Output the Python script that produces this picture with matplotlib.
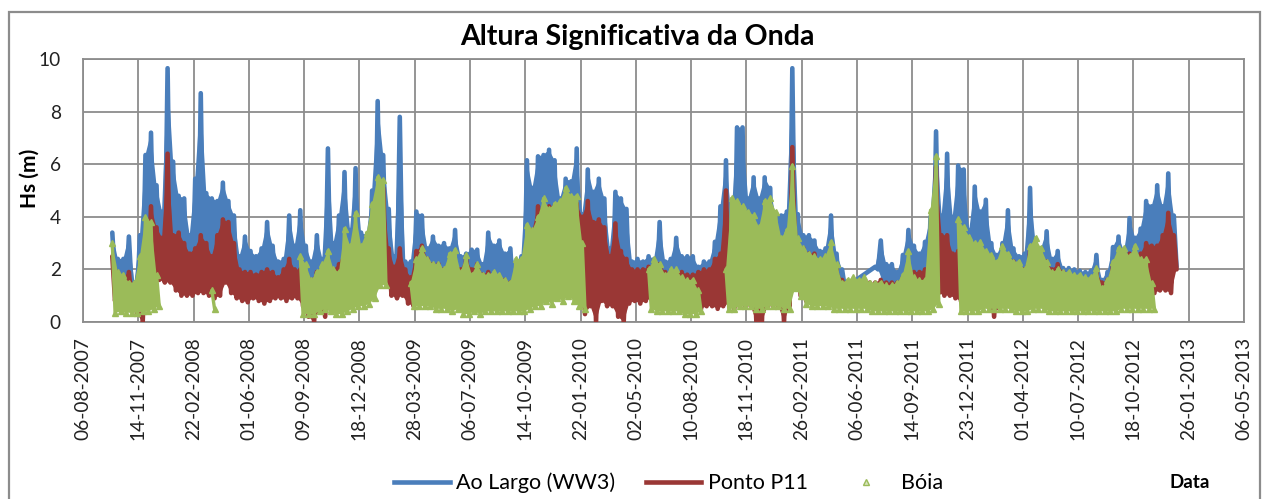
import matplotlib.pyplot as plt
import matplotlib.dates as mdates
from matplotlib.lines import Line2D
from matplotlib.patches import Rectangle
import numpy as np
import pandas as pd

plt.rcParams['font.family'] = ['Lato', 'DejaVu Sans']

# readings in 10-day bins starting 25-09-2007: max and min of each bin
bin_start = '2007-09-25'

ww3_high = [3.4, 2.4, 2.4, 3.25, 1.5, 3.3, 6.35, 7.2, 5.2, 4.2,
            9.65, 6.1, 4.8, 4.7, 3.3, 5.45, 8.7, 4.9, 4.7, 4.6,
            5.3, 4.6, 4.05, 2.5, 3.25, 2.7, 2.5, 2.8, 3.8, 2.9,
            2.3, 2.4, 4.05, 2.9, 4.25, 2.9, 2.3, 3.3, 2.4, 6.6,
            3.0, 4.05, 5.7, 3.5, 5.85, 3.4, 3.3, 5.0, 8.4, 6.35,
            4.3, 2.5, 7.8, 2.3, 2.3, 4.2, 4.05, 2.8, 3.25, 2.9,
            3.0, 2.8, 3.5, 2.5, 2.6, 2.75, 2.75, 2.2, 3.4, 2.9,
            3.1, 2.6, 2.8, 2.0, 2.5, 6.15, 5.1, 6.3, 6.35, 6.55,
            6.15, 4.7, 5.45, 5.35, 6.6, 4.1, 5.8, 4.95, 5.45, 4.7,
            2.8, 4.95, 4.7, 4.3, 2.3, 2.4, 2.3, 2.5, 2.4, 3.8,
            2.3, 2.4, 3.2, 2.5, 2.5, 2.5, 2.1, 2.3, 2.3, 3.05,
            4.4, 6.15, 4.0, 7.4, 7.4, 4.7, 5.5, 4.7, 5.5, 5.1,
            4.0, 4.05, 4.2, 9.65, 4.1, 3.3, 3.3, 3.1, 2.7, 2.8,
            4.05, 2.6, 2.0, None, None, None, None, None, 2.1, 3.1,
            2.2, 2.2, 1.9, 2.55, 3.5, 2.9, 2.6, 3.05, 4.0, 7.25,
            4.05, 6.4, 4.0, 5.95, 5.8, 3.5, 5.15, 4.2, 4.65, 3.0,
            2.55, 3.0, 4.25, 2.8, 2.5, 2.6, 5.1, 3.0, 2.8, 3.45,
            2.4, 2.7, 2.05, 2.05, 2.0, 1.95, 1.9, 1.95, 2.55, 1.6,
            1.9, 2.85, 3.25, 2.7, 3.95, 3.2, 3.55, 4.6, 4.4, 5.2,
            4.4, 5.65, 4.05]
ww3_low = [1.6, 1.4, 1.2, 1.3, 0.9, 1.0, 1.8, 2.0, 2.0, 2.0,
           2.2, 1.6, 1.5, 1.4, 1.4, 1.5, 1.5, 1.4, 1.3, 1.4,
           1.8, 1.5, 1.3, 1.2, 1.1, 1.2, 1.1, 1.0, 1.1, 1.2,
           1.2, 1.1, 1.2, 1.2, 1.0, 0.8, 0.7, 0.9, 0.8, 1.0,
           1.0, 1.0, 1.1, 1.1, 1.2, 1.2, 1.3, 1.6, 2.0, 2.0,
           1.5, 1.3, 1.4, 1.1, 1.0, 1.2, 1.2, 1.1, 1.0, 1.0,
           1.0, 1.0, 1.0, 0.9, 0.9, 0.9, 0.9, 0.9, 0.9, 0.9,
           0.9, 0.9, 0.9, 0.9, 1.0, 1.2, 1.3, 1.3, 1.5, 1.4,
           1.6, 1.5, 1.7, 1.5, 1.3, 0.8, 1.1, 0.6, 1.2, 1.0,
           1.0, 0.7, 0.6, 1.1, 1.2, 1.1, 1.2, 1.2, 1.0, 1.0,
           1.0, 1.0, 1.0, 0.9, 0.9, 0.9, 0.9, 0.9, 0.9, 0.9,
           1.0, 1.1, 0.9, 1.0, 1.0, 1.0, 0.6, 0.6, 1.0, 1.0,
           1.0, 0.6, 1.0, 1.8, 1.4, 1.1, 1.0, 1.0, 1.0, 1.0,
           1.0, 1.0, 1.3, None, None, None, None, None, 2.0, 1.5,
           1.1, 1.1, 1.0, 1.0, 1.1, 1.0, 1.0, 1.0, 1.2, 1.5,
           1.4, 1.4, 1.3, 1.2, 1.1, 1.0, 1.0, 1.0, 1.0, 0.6,
           0.9, 0.9, 0.9, 0.9, 0.9, 0.9, 1.0, 1.0, 1.0, 1.0,
           0.9, 0.9, 0.9, 0.9, 0.9, 0.9, 0.9, 0.9, 0.9, 0.8,
           0.8, 0.9, 1.0, 1.0, 1.0, 1.0, 1.0, 1.2, 1.4, 1.5,
           1.5, 1.5, 2.1]

p11_high = [2.5, 1.9, 1.7, 1.9, 1.3, 2.0, 3.0, 4.4, 3.6, 3.2,
            6.4, 3.3, 3.4, 3.0, 2.6, 2.8, 3.3, 3.0, 2.5, 3.3,
            3.9, 3.8, 3.0, 2.0, 1.9, 1.9, 1.8, 1.9, 2.0, 1.9,
            1.7, 2.0, 2.4, 2.0, 2.0, 1.9, 1.6, 1.9, 1.9, 2.2,
            2.0, 2.2, 2.8, 2.4, 3.0, 2.5, 3.0, 3.5, 5.0, 5.1,
            2.8, 2.1, 2.8, 2.0, 1.7, 2.7, 2.9, 2.4, 2.2, 2.2,
            2.0, 2.1, 2.3, 2.0, 2.4, 2.0, 2.2, 1.8, 1.9, 1.7,
            1.7, 1.6, 1.5, 1.7, 2.0, 3.0, 3.5, 4.4, 4.2, 4.4,
            4.4, 4.3, 4.6, 4.3, 4.5, 4.0, 4.6, 3.8, 3.9, 3.6,
            2.5, 3.75, 2.7, 2.4, 2.0, 2.0, 2.0, 2.1, 2.2, 2.2,
            1.9, 1.8, 1.9, 1.9, 1.8, 1.8, 1.9, 2.0, 2.0, 2.4,
            2.6, 5.0, 3.2, 3.9, 3.6, 3.0, 2.5, 2.7, 3.0, 3.0,
            2.5, 2.2, 2.6, 6.65, 3.0, 2.8, 2.6, 2.6, 2.3, 2.3,
            2.4, 2.0, 1.6, 1.5, 1.5, 1.5, 1.5, 1.5, 1.5, 1.6,
            1.5, 1.5, 1.5, 1.7, 2.0, 1.9, 1.9, 2.0, 2.4, 5.9,
            3.3, 3.3, 2.6, 2.7, 2.6, 2.5, 2.8, 2.6, 2.4, 2.2,
            2.1, 2.5, 2.5, 2.3, 2.0, 2.0, 2.7, 2.6, 2.5, 2.3,
            2.0, 2.2, 1.9, 1.8, 1.7, 1.7, 1.6, 1.6, 1.9, 1.5,
            1.6, 2.2, 2.5, 2.3, 2.6, 2.4, 2.6, 3.0, 2.9, 2.9,
            3.3, 4.15, 3.3]
p11_low = [0.8, 0.9, 0.8, 0.7, 0.3, 0.0, 1.3, 1.4, 1.6, 1.5,
           1.5, 1.2, 1.0, 1.0, 1.0, 1.1, 1.1, 1.0, 0.9, 1.0,
           1.5, 1.1, 0.9, 0.8, 0.75, 0.9, 0.8, 0.7, 0.8, 0.9,
           0.9, 0.8, 0.9, 0.9, 0.6, 0.2, 0.0, 0.5, 0.2, 0.6,
           0.6, 0.6, 0.7, 0.7, 0.8, 0.8, 0.9, 1.2, 1.6, 1.6,
           1.0, 0.9, 1.0, 0.7, 0.6, 0.8, 0.8, 0.8, 0.7, 0.7,
           0.7, 0.6, 0.7, 0.6, 0.6, 0.6, 0.6, 0.6, 0.5, 0.5,
           0.5, 0.5, 0.5, 0.5, 0.6, 0.8, 0.9, 0.9, 1.1, 1.0,
           1.2, 1.1, 1.3, 1.1, 0.9, 0.3, 0.6, 0.0, 0.8, 0.6,
           0.6, 0.2, 0.0, 0.7, 0.8, 0.7, 0.8, 0.9, 0.7, 0.7,
           0.7, 0.7, 0.7, 0.6, 0.6, 0.6, 0.5, 0.6, 0.6, 0.5,
           0.6, 0.7, 0.5, 0.6, 0.6, 0.6, 0.0, 0.0, 0.6, 0.6,
           0.6, 0.0, 0.6, 1.4, 1.0, 0.8, 0.7, 0.7, 0.7, 0.7,
           0.7, 0.7, 0.7, 0.7, 0.7, 0.7, 0.7, 0.7, 0.7, 0.7,
           0.6, 0.6, 0.6, 0.6, 0.7, 0.6, 0.6, 0.6, 0.8, 1.1,
           1.0, 1.0, 0.9, 0.8, 0.7, 0.7, 0.6, 0.6, 0.6, 0.2,
           0.6, 0.6, 0.6, 0.6, 0.6, 0.6, 0.7, 0.7, 0.7, 0.6,
           0.6, 0.6, 0.6, 0.6, 0.6, 0.6, 0.6, 0.6, 0.6, 0.5,
           0.5, 0.6, 0.7, 0.7, 0.7, 0.7, 0.7, 0.9, 1.1, 1.2,
           1.2, 1.1, 2.0]

boia_high = [3.0, 1.9, 1.8, 1.5, 1.5, 2.5, 4.0, 3.8, 1.8, None,
             None, None, None, None, None, None, None, None, 1.2, None,
             None, None, None, None, None, None, None, None, None, None,
             None, None, None, None, 2.5, 2.2, 1.6, 1.9, 2.2, 2.7,
             2.0, 1.9, 3.55, 2.9, 4.15, 2.9, 3.4, 4.5, 5.5, 5.4,
             None, None, None, None, 1.5, 2.4, 2.8, 2.4, 2.2, 2.2,
             2.0, 2.6, 2.75, 1.9, 2.55, 1.8, 2.2, 1.8, 1.8, 1.9,
             1.8, 1.6, 1.5, 2.4, 2.4, 3.7, 3.5, 4.0, 4.7, 4.3,
             4.5, 4.6, 5.1, 4.8, 4.8, 3.0, None, None, None, None,
             None, None, None, None, None, None, None, 2.0, 2.4, 2.2,
             1.8, 2.0, 2.0, 1.7, 1.6, 1.6, 1.2, None, None, None,
             None, 2.0, 4.7, 4.6, 4.4, 4.2, 4.05, 3.6, 4.6, 4.7,
             4.2, 3.2, 3.5, 5.95, 3.2, 2.8, 2.6, 2.5, 2.4, 2.5,
             3.05, 2.2, 1.5, 1.6, 1.7, 1.6, 1.7, 1.5, 1.5, 1.5,
             1.4, 1.4, 1.5, 1.8, 2.7, 1.7, 1.6, 1.6, 4.25, 6.3,
             None, None, None, 3.9, 3.6, 3.25, 3.0, 3.05, 2.7, 2.55,
             2.3, 2.9, 2.6, 2.3, 2.3, 2.0, 2.9, 3.2, 2.8, 2.3,
             1.9, 2.0, 1.9, 1.9, 1.8, 1.8, 1.7, 1.7, 2.05, 1.3,
             1.6, 2.3, 2.8, 2.8, 2.5, 2.9, 2.4, 2.4, 1.5, None,
             None, None, None]
boia_low = [0.35, 0.4, 0.35, 0.35, 0.35, 0.4, 0.4, 0.5, 0.6, None,
            None, None, None, None, None, None, None, None, 0.5, None,
            None, None, None, None, None, None, None, None, None, None,
            None, None, None, None, 0.3, 0.3, 0.3, 0.4, 0.5, 0.4,
            0.3, 0.3, 0.4, 0.5, 0.6, 0.6, 0.7, 0.9, 1.4, 1.4,
            None, None, None, None, 0.6, 0.6, 0.6, 0.6, 0.5, 0.5,
            0.5, 0.4, 0.5, 0.3, 0.3, 0.4, 0.3, 0.4, 0.4, 0.4,
            0.4, 0.4, 0.4, 0.4, 0.4, 0.5, 0.6, 0.6, 0.8, 0.7,
            0.9, 0.8, 1.0, 0.8, 0.6, 0.5, None, None, None, None,
            None, None, None, None, None, None, None, 0.5, 0.4, 0.4,
            0.4, 0.4, 0.4, 0.3, 0.3, 0.3, 0.4, None, None, None,
            None, 0.5, 0.5, 0.6, 0.6, 0.6, 0.5, 0.5, 0.6, 0.6,
            0.6, 0.5, 0.5, 1.3, 1.0, 0.7, 0.6, 0.6, 0.6, 0.6,
            0.5, 0.5, 0.5, 0.5, 0.5, 0.5, 0.5, 0.4, 0.4, 0.4,
            0.4, 0.4, 0.4, 0.4, 0.4, 0.4, 0.4, 0.4, 0.5, 0.7,
            None, None, None, 0.4, 0.4, 0.4, 0.4, 0.5, 0.5, 0.5,
            0.5, 0.5, 0.5, 0.4, 0.4, 0.4, 0.5, 0.5, 0.5, 0.4,
            0.4, 0.4, 0.4, 0.4, 0.4, 0.4, 0.4, 0.4, 0.4, 0.4,
            0.4, 0.4, 0.5, 0.5, 0.5, 0.5, 0.5, 0.5, 0.5, None,
            None, None, None]

blue = '#4A7EBB'
red = '#9A3735'
green = '#9BBB59'


def draw_series(ax, high, low, color, lw, z, drop_gaps=False, **kw):
    # each bin: its max a little after the bin start, its min five days later
    dates = mdates.date2num(pd.date_range(bin_start, periods=len(high), freq='10D'))
    hi = np.array(high, dtype=float)
    lo = np.array(low, dtype=float)
    if drop_gaps:
        # Excel joins the points across missing data with a straight line
        keep = ~np.isnan(hi)
        dates, hi, lo = dates[keep], hi[keep], lo[keep]
    xh = dates + 3
    xl = dates + 8

    # solid band between the maxima and the minima, one run of bins at a time
    idx = np.flatnonzero(~np.isnan(hi))
    breaks = np.where((np.diff(idx) > 1) | (np.diff(dates[idx]) > 10.5))[0] + 1
    for run in np.split(idx, breaks):
        xs = np.concatenate([xh[run], xl[run][::-1]])
        ys = np.concatenate([hi[run], lo[run][::-1]])
        ax.fill(xs, ys, color=color, lw=0, zorder=z)

    x = np.column_stack([xh, xl]).ravel()
    y = np.column_stack([hi, lo]).ravel()
    ax.plot(x, y, color=color, lw=lw, solid_joinstyle='round', solid_capstyle='round',
            zorder=z, **kw)


fig = plt.figure(figsize=(12.68, 4.99), dpi=100)
ax = fig.add_axes([83 / 1268, 1 - 322 / 499, (1244 - 83) / 1268, (322 - 59) / 499])

draw_series(ax, ww3_high, ww3_low, blue, 3.3, 3, drop_gaps=True)
draw_series(ax, p11_high, p11_low, red, 3.3, 4)
draw_series(ax, boia_high, boia_low, green, 2.4, 5, marker='^', markersize=4.5)

ticks = pd.date_range('2007-08-06', periods=22, freq='100D')
ax.set_xlim(mdates.date2num(ticks[0]), mdates.date2num(ticks[-1]))
ax.set_xticks(mdates.date2num(ticks))
ax.set_xticklabels([t.strftime('%d-%m-%Y') for t in ticks], rotation=90)
ax.set_ylim(0, 10)
ax.set_yticks([0, 2, 4, 6, 8, 10])
ax.tick_params(axis='both', length=0, labelsize=13.8, colors='#222222')
ax.tick_params(axis='y', pad=16)
ax.tick_params(axis='x', pad=11)
ax.grid(True, color='#8c8c8c', lw=1.3)
ax.set_axisbelow(True)
for s in ax.spines.values():
    s.set_color('#8c8c8c')
    s.set_linewidth(1.3)

fig.text(637 / 1268, 1 - 37 / 499, 'Altura Significativa da Onda', ha='center', va='center',
         fontsize=20.5, fontweight='bold')
fig.text(30 / 1268, 1 - 178 / 499, 'Hs (m)', rotation=90, ha='center', va='center',
         fontsize=15, fontweight='bold')
fig.text(1190 / 1268, 1 - 483 / 499, 'Data', ha='center', va='center', fontsize=13.5,
         fontweight='bold')

handles = [Line2D([], [], color=blue, lw=3.3),
           Line2D([], [], color=red, lw=3.3),
           Line2D([], [], color=green, ls='none', marker='^', markersize=4,
                  markerfacecolor='#d7e4bd', markeredgecolor=green)]
fig.legend(handles, ['Ao Largo (WW3)', 'Ponto P11', 'Bóia'], loc='center',
           bbox_to_anchor=(0.527, 1 - 483 / 499), ncol=3, frameon=False, fontsize=15.5,
           handlelength=2.6, handletextpad=0.3, columnspacing=1.4)

fig.patches.append(Rectangle((9 / 1268, -0.05), (1260 - 9) / 1268, 1.05 - 12 / 499,
                             transform=fig.transFigure, fill=False, edgecolor='#8c8c8c', lw=1.6))

fig.savefig('out.png', dpi=100, facecolor='white')
